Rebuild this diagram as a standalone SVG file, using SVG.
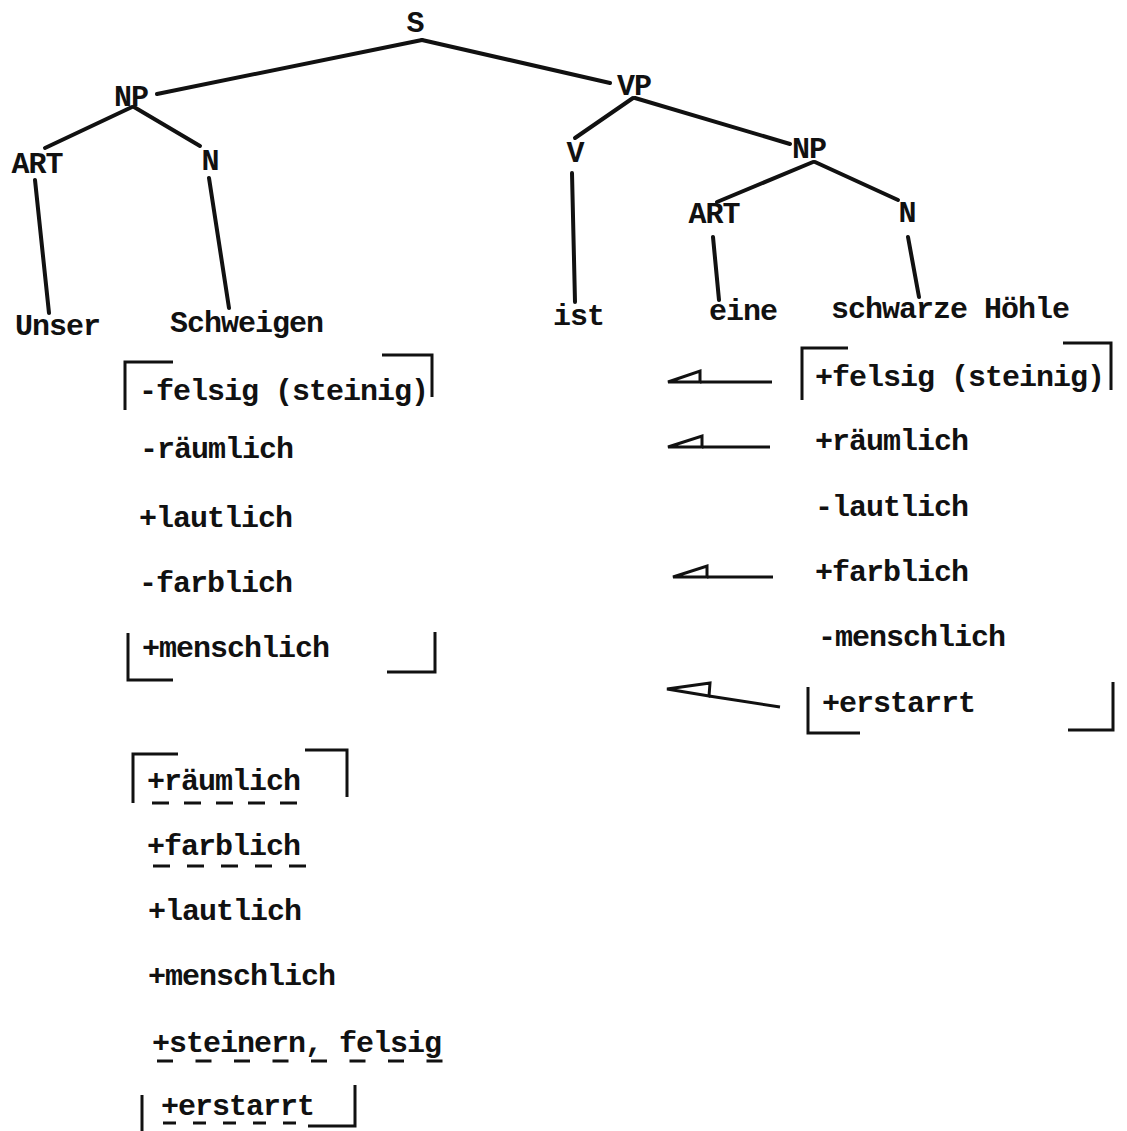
<svg xmlns="http://www.w3.org/2000/svg" width="1127" height="1131" viewBox="0 0 1127 1131">
<style>
text{font-family:"Liberation Mono","DejaVu Sans Mono",monospace;font-size:30px;letter-spacing:-1px;font-weight:bold;fill:#111}
.lab{text-anchor:middle}
.edge{stroke:#111;stroke-width:4;stroke-linecap:round;fill:none}
.br{stroke:#111;stroke-width:3;fill:none}
.ul{stroke:#111;stroke-width:3;fill:none}
.arr{stroke:#111;stroke-width:3;fill:#fff;stroke-linejoin:miter}
</style>
<rect width="1127" height="1131" fill="#fff"/>
<g id="connectors">
<line class="edge" x1="422" y1="40" x2="157" y2="94"/>
<line class="edge" x1="422" y1="40" x2="610" y2="83"/>
<line class="edge" x1="132" y1="107" x2="45" y2="148"/>
<line class="edge" x1="134" y1="107" x2="200" y2="146"/>
<line class="edge" x1="35" y1="180" x2="49" y2="313"/>
<line class="edge" x1="209" y1="178" x2="229" y2="308"/>
<line class="edge" x1="633" y1="98" x2="575" y2="138"/>
<line class="edge" x1="635" y1="98" x2="790" y2="144"/>
<line class="edge" x1="572" y1="173" x2="575" y2="302"/>
<line class="edge" x1="813" y1="162" x2="717" y2="202"/>
<line class="edge" x1="815" y1="162" x2="898" y2="200"/>
<line class="edge" x1="713" y1="237" x2="719" y2="300"/>
<line class="edge" x1="908" y1="237" x2="919" y2="297"/>
</g>
<g id="node-S"><text class="lab" x="415" y="32">S</text></g>
<g id="node-NP1"><text class="lab" x="131" y="106">NP</text></g>
<g id="node-ART1"><text class="lab" x="37" y="173">ART</text></g>
<g id="node-N1"><text class="lab" x="210" y="170">N</text></g>
<g id="node-VP"><text class="lab" x="634" y="95">VP</text></g>
<g id="node-V"><text class="lab" x="575" y="162">V</text></g>
<g id="node-NP2"><text class="lab" x="809" y="158">NP</text></g>
<g id="node-ART2"><text class="lab" x="714" y="223">ART</text></g>
<g id="node-N2"><text class="lab" x="907" y="222">N</text></g>
<g id="leaf-Unser"><text x="15" y="335">Unser</text></g>
<g id="leaf-Schweigen"><text x="170" y="332">Schweigen</text></g>
<g id="leaf-ist"><text x="553" y="325">ist</text></g>
<g id="leaf-eine"><text x="709" y="320">eine</text></g>
<g id="leaf-schwarze"><text x="831" y="318">schwarze Höhle</text></g>

<g id="features-left">
<path class="br" d="M125,410 L125,362 L173,362"/>
<path class="br" d="M382,355 L432,355 L432,397"/>
<path class="br" d="M128,633 L128,680 L173,680"/>
<path class="br" d="M387,672 L435,672 L435,632"/>
<text x="139" y="400">-felsig (steinig)</text>
<text x="140" y="458">-räumlich</text>
<text x="139" y="527">+lautlich</text>
<text x="139" y="592">-farblich</text>
<text x="142" y="657">+menschlich</text>
</g>

<g id="features-right">
<path class="br" d="M802,400 L802,348 L848,348"/>
<path class="br" d="M1063,343 L1111,343 L1111,390"/>
<path class="br" d="M808,687 L808,733 L860,733"/>
<path class="br" d="M1068,730 L1113,730 L1113,682"/>
<text x="815" y="386">+felsig (steinig)</text>
<text x="815" y="450">+räumlich</text>
<text x="815" y="516">-lautlich</text>
<text x="815" y="581">+farblich</text>
<text x="818" y="646">-menschlich</text>
<text x="822" y="712">+erstarrt</text>
</g>

<g id="arrows">
<path class="arr" d="M700,382 L668,382 L700,371 Z"/>
<line class="br" x1="700" y1="382" x2="772" y2="382"/>
<path class="arr" d="M702,447 L668,447 L702,436 Z"/>
<line class="br" x1="702" y1="447" x2="770" y2="447"/>
<path class="arr" d="M707,577 L673,577 L707,566 Z"/>
<line class="br" x1="707" y1="577" x2="773" y2="577"/>
<path class="arr" d="M709,696 L667,689 L710,683 Z"/>
<line class="br" x1="709" y1="696" x2="780" y2="707"/>
</g>

<g id="features-bottom">
<path class="br" d="M133,803 L133,754 L178,754"/>
<path class="br" d="M305,750 L347,750 L347,797"/>
<path class="br" d="M142,1095 L142,1131"/>
<path class="br" d="M308,1126 L355,1126 L355,1085"/>
<text x="147" y="790">+räumlich</text>
<text x="147" y="855">+farblich</text>
<text x="148" y="920">+lautlich</text>
<text x="148" y="985">+menschlich</text>
<text x="152" y="1052">+steinern, felsig</text>
<text x="161" y="1115">+erstarrt</text>
<line class="ul" x1="152" y1="803" x2="300" y2="803" stroke-dasharray="17 15"/>
<line class="ul" x1="153" y1="866" x2="313" y2="866" stroke-dasharray="17 17"/>
<line class="ul" x1="157" y1="1061" x2="443" y2="1061" stroke-dasharray="16 22.5"/>
<line class="ul" x1="163" y1="1123" x2="308" y2="1123" stroke-dasharray="13 17"/>
</g>
</svg>
